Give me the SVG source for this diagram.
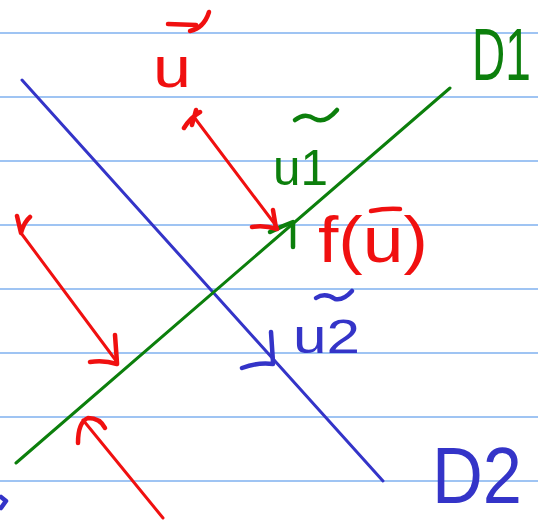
<svg xmlns="http://www.w3.org/2000/svg" width="538" height="523" viewBox="0 0 538 523">
<style>
.rule{stroke:#7fb0ef;stroke-width:1.5}
.ln{fill:none;stroke-linecap:round;stroke-linejoin:round;stroke-width:3}
.mk{fill:none;stroke-linecap:round;stroke-linejoin:round;stroke-width:4.5}
.red{stroke:#f01010}
.grn{stroke:#0c7f0c}
.blu{stroke:#3434c8}
.t{font-family:"Liberation Sans",Arial,sans-serif}
.tr{fill:#f01010}.tg{fill:#0c7f0c}.tb{fill:#3434c8}
</style>
<rect width="538" height="523" fill="#ffffff"/>
<g id="paper">
<line class="rule" x1="0" y1="33" x2="538" y2="33"/>
<line class="rule" x1="0" y1="97" x2="538" y2="97"/>
<line class="rule" x1="0" y1="161" x2="538" y2="161"/>
<line class="rule" x1="0" y1="225" x2="538" y2="225"/>
<line class="rule" x1="0" y1="289" x2="538" y2="289"/>
<line class="rule" x1="0" y1="353" x2="538" y2="353"/>
<line class="rule" x1="0" y1="417" x2="538" y2="417"/>
<line class="rule" x1="0" y1="481" x2="538" y2="481"/>
</g>
<g id="connectors">
<!-- D2 -->
<line class="ln blu" x1="22" y1="80" x2="383" y2="481"/>
<path class="mk blu" d="M271 332 L273 362 M242 368 Q258 362 273 364"/>
<!-- D1 -->
<line class="ln grn" x1="16" y1="463" x2="450" y2="88"/>
<path class="mk grn" d="M270 232 Q282 226 293 222 L293 247"/>
<!-- red vector near u -->
<path class="ln red" d="M194 117 L277 227"/>
<path class="mk red" d="M184 128 Q190 118 200 112 M196 110 L192 125 M273 210 L276 228 M252 227 Q264 225 277 229"/>
<!-- red left -->
<path class="ln red" d="M21 233 L117 362"/>
<path class="mk red" d="M17 216 L21 233 Q24 222 30 217 M115 335 L117 363 M90 362 Q104 360 117 364"/>
<!-- red bottom -->
<path class="ln red" d="M163 518 L83 420"/>
<path class="mk red" d="M78 443 Q78 422 88 418 Q100 418 105 428"/>
<!-- blue stray mark -->
<path class="mk blu" d="M1 497 L6 501 L1 508"/>
</g>
<g id="label-u">
<text class="t tr" x="153" y="87" font-size="58" textLength="38" lengthAdjust="spacingAndGlyphs">u</text>
<path class="mk red" d="M168 24 L196 25 M190 31 Q204 28 209 12"/>
</g>
<g id="label-u1">
<text class="t tg" x="273" y="185" font-size="50" textLength="55" lengthAdjust="spacingAndGlyphs">u1</text>
<path class="mk grn" d="M295 120 Q305 112 315 119 Q325 124 337 110"/>
</g>
<g id="label-f">
<text class="t tr" x="318" y="262" font-size="64" textLength="110" lengthAdjust="spacingAndGlyphs">f(u)</text>
<path class="mk red" d="M371 211 Q386 208 400 209"/>
</g>
<g id="label-u2">
<text class="t tb" x="293" y="353" font-size="48" textLength="67" lengthAdjust="spacingAndGlyphs">u2</text>
<path class="mk blu" d="M316 298 Q325 292 335 299 Q343 301 352 291"/>
</g>
<g id="label-D1">
<text class="t tg" font-size="50" transform="translate(472,80) scale(0.92,1.5)">D1</text>
</g>
<g id="label-D2">
<text class="t tb" x="432" y="503" font-size="80" textLength="90" lengthAdjust="spacingAndGlyphs">D2</text>
</g>
</svg>
